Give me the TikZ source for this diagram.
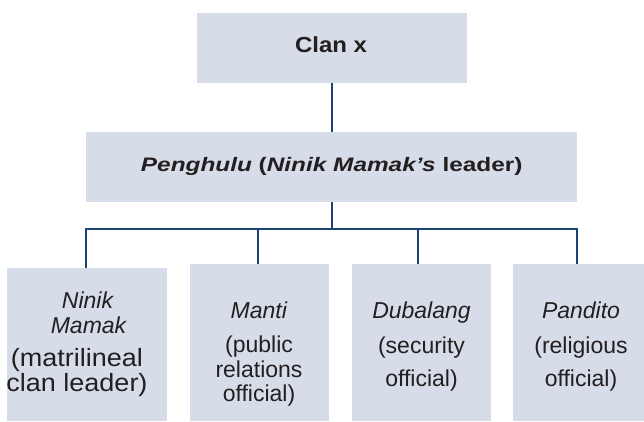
\documentclass[tikz,border=0pt]{standalone}
\usepackage{fontspec}
\usepackage{graphicx}
\setmainfont{Liberation Sans}
\definecolor{boxfill}{HTML}{D6DCE8}
\definecolor{linecol}{HTML}{1B4472}
\definecolor{txt}{HTML}{231F20}
\tikzset{
  box/.style={draw=none, fill=boxfill, inner sep=0pt, anchor=north west},
  conn/.style={draw=linecol, line width=1.4pt, line join=miter},
  ln/.style={inner sep=0pt, anchor=base, text=txt},
  big/.style={ln, font=\fontsize{21.8}{24}\selectfont\bfseries},
  mid/.style={ln, font=\fontsize{19.5}{22}\selectfont\bfseries},
  small/.style={ln, font=\fontsize{23}{25}\selectfont},
  large/.style={ln, font=\fontsize{25}{27}\selectfont}
}
\begin{document}
\begin{tikzpicture}[x=1pt, y=-1pt]
\useasboundingbox (0,0) rectangle (644,421);
% boxes
\node[box, minimum width=270pt, minimum height=70pt] (clan) at (197,13) {};
\node[box, minimum width=491pt, minimum height=70pt] (pen) at (86,132) {};
\node[box, minimum width=160pt, minimum height=153pt] (b1) at (7,268) {};
\node[box, minimum width=139pt, minimum height=157pt] (b2) at (190,264) {};
\node[box, minimum width=139pt, minimum height=157pt] (b3) at (352,264) {};
\node[box, minimum width=131pt, minimum height=157pt] (b4) at (513,264) {};
% connectors
\coordinate (bus) at (332,229);
\coordinate (t1) at (86,229);
\coordinate (t2) at (258,229);
\coordinate (t3) at (418,229);
\coordinate (t4) at (577,229);
\draw[conn] (clan.south -| bus) -- (pen.north -| bus);
\draw[conn] (pen.south -| bus) -- (bus);
\draw[conn] (t1 |- b1.north) -- (t1) -- (t4) -- (t4 |- b4.north);
\draw[conn] (t2) -- (t2 |- b2.north);
\draw[conn] (t3) -- (t3 |- b3.north);
% texts
\node[big] (clantxt) at (331,52.3) {\scalebox{1.1}[1]{Clan x}};
\node[mid] (pentxt) at (331.7,171) {\scalebox{1.25}[1]{\textit{Penghulu} (\textit{Ninik Mamak’s} leader)}};
\node[small] (l11) at (88,308) {\textit{Ninik}};
\node[small] (l12) at (89,333) {\textit{Mamak}};
\node[large] (l13) at (77,366) {\scalebox{1.08}[1]{(matrilineal}};
\node[large] (l14) at (77,391) {\scalebox{1.08}[1]{clan leader)}};
\node[small] (l21) at (259,318) {\textit{Manti}};
\node[small] (l22) at (259,352) {(public};
\node[small] (l23) at (259,377) {relations};
\node[small] (l24) at (259,401) {official)};
\node[small] (l31) at (421.5,318) {\textit{Dubalang}};
\node[small] (l32) at (421.5,353) {(security};
\node[small] (l33) at (421.5,386) {official)};
\node[small] (l41) at (581,318) {\textit{Pandito}};
\node[small] (l42) at (581,353) {(religious};
\node[small] (l43) at (581,386) {official)};
\end{tikzpicture}
\end{document}
